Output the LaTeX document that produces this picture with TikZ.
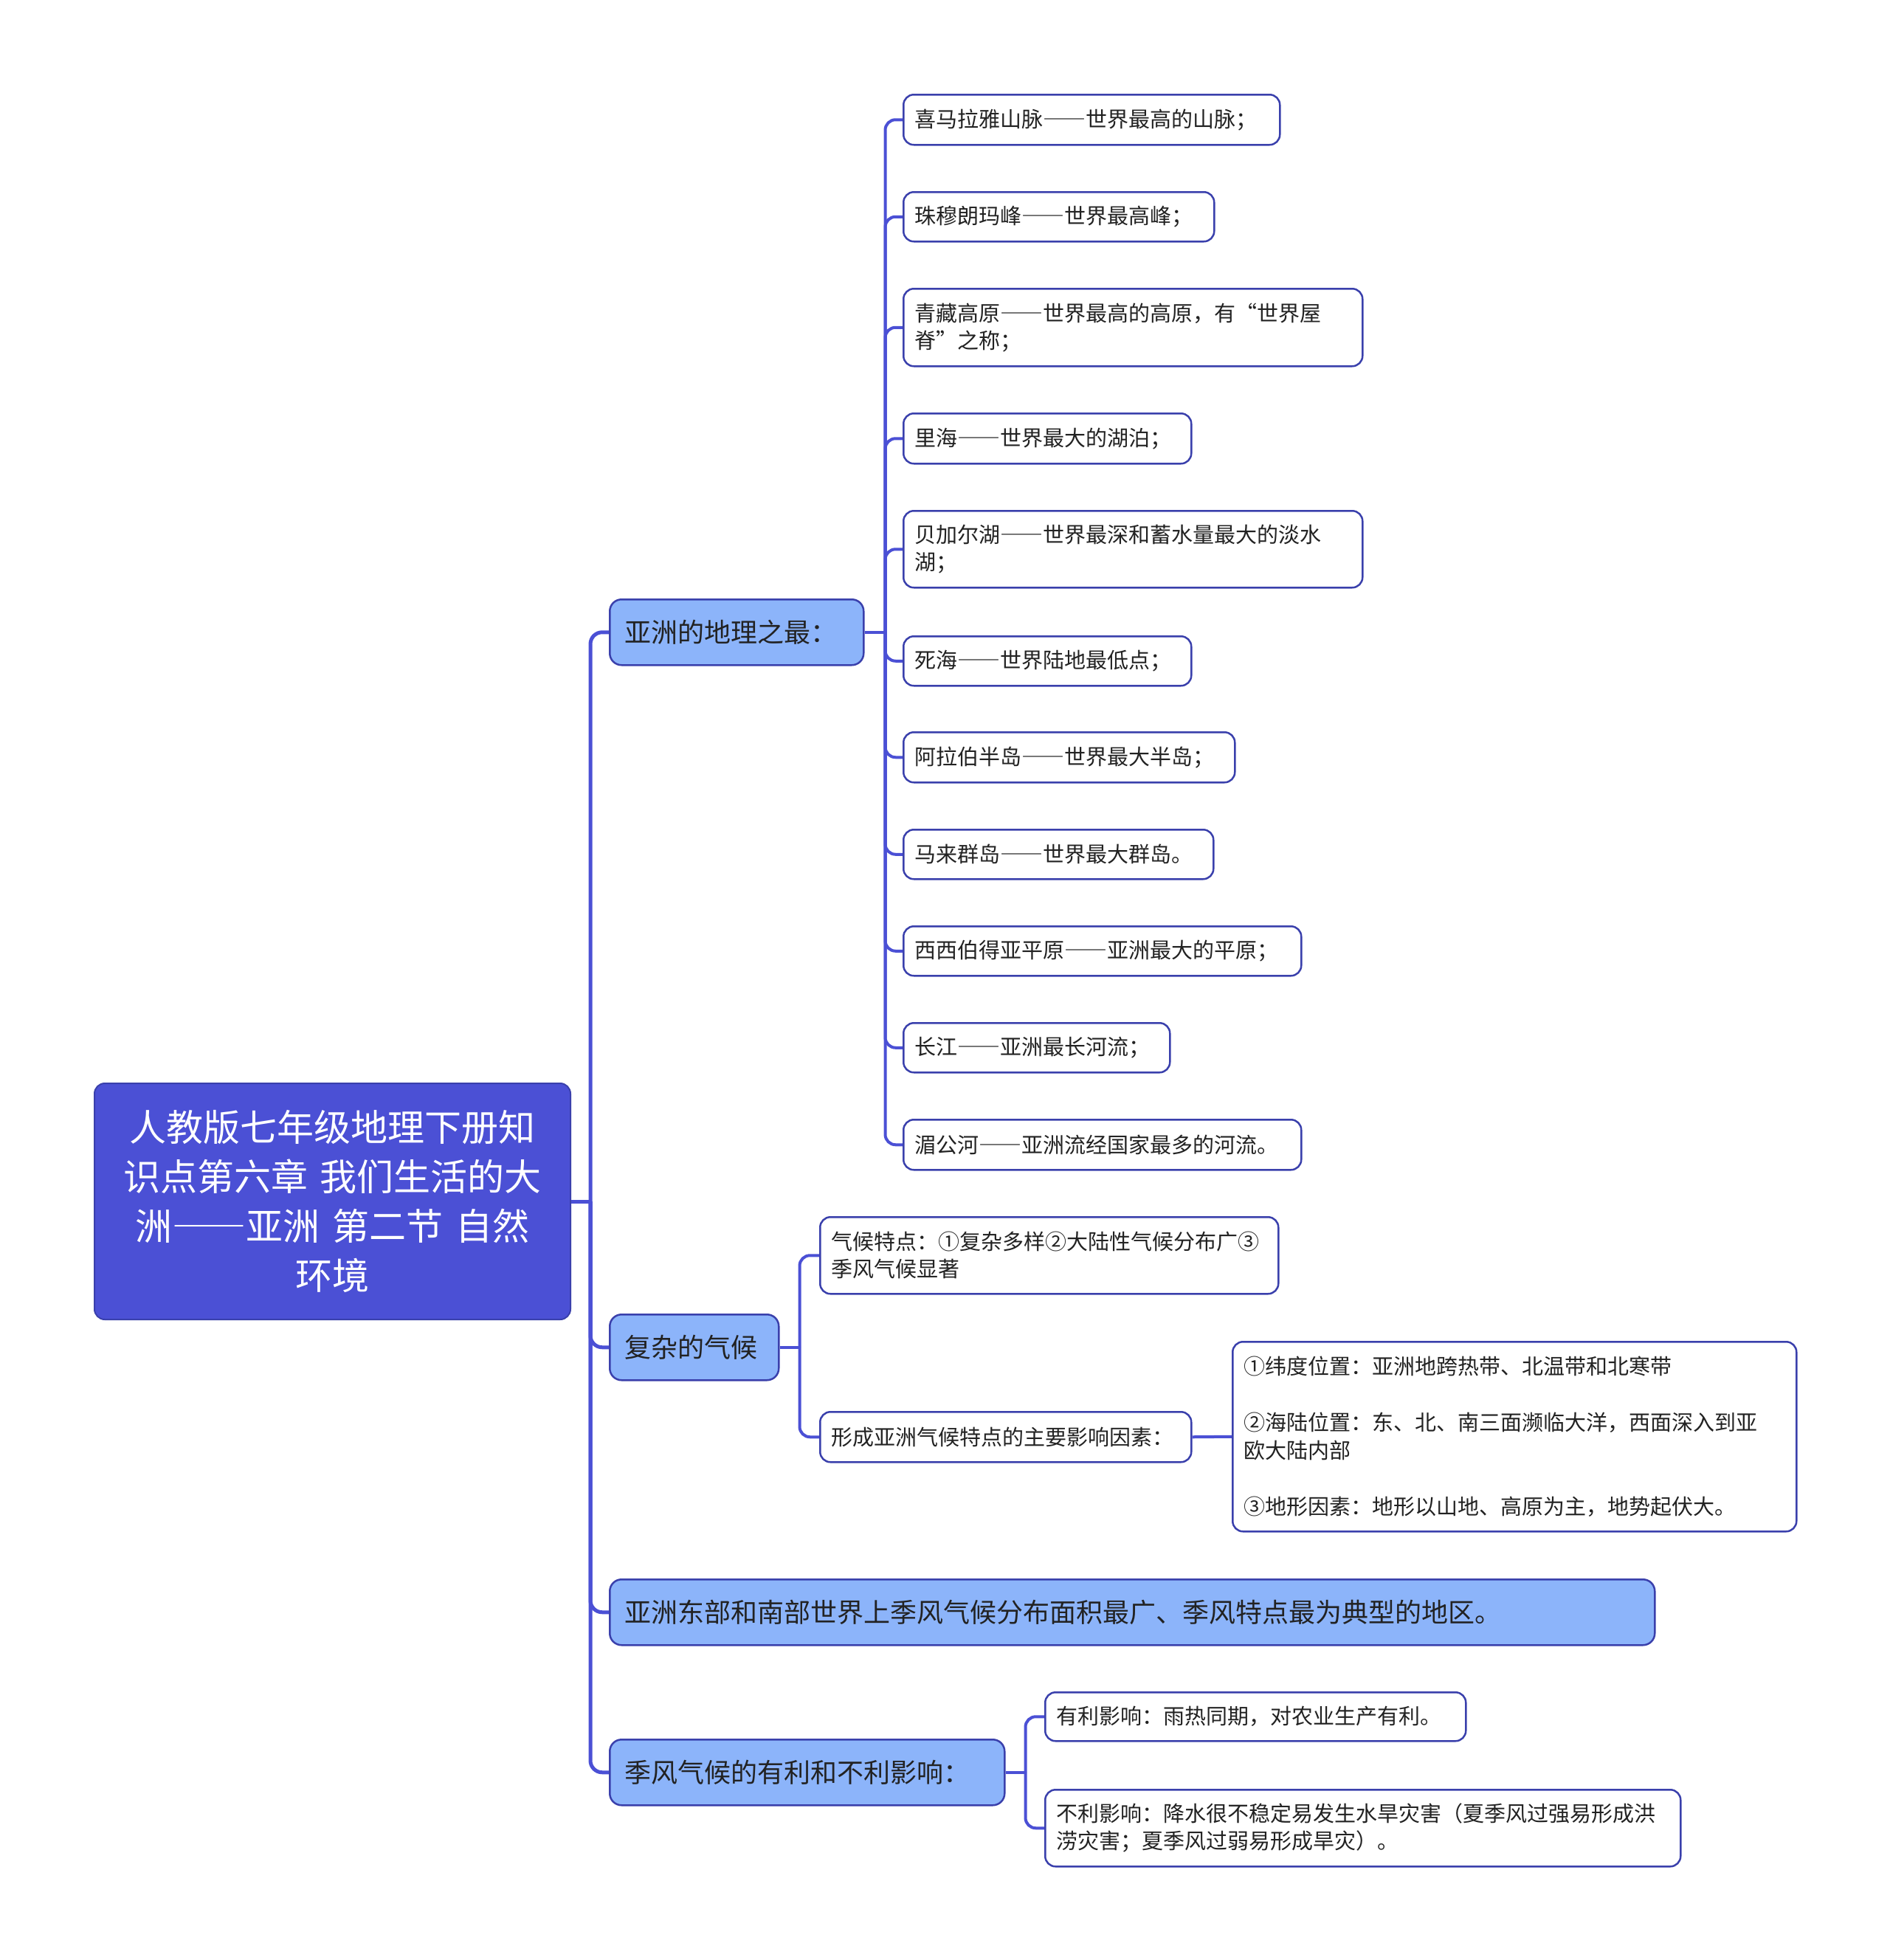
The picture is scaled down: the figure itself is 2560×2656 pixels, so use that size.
\documentclass[tikz,border=0pt]{standalone}
\usepackage{fontspec}
\setmainfont{Noto Sans CJK SC}
\usetikzlibrary{calc}
\definecolor{mainblue}{RGB}{75,80,213}
\definecolor{edgeblue}{RGB}{58,64,172}
\definecolor{lightblue}{RGB}{140,180,250}
\definecolor{txt}{RGB}{34,34,34}
\newcommand\emdd{{\addfontfeatures{RawFeature=+fwid}——}}
\tikzset{
  leafbox/.style={draw=edgeblue, line width=2.5pt, rounded corners=14pt, fill=white, text=txt, align=left, inner xsep=15pt, inner ysep=0pt, anchor=north west, font=\fontsize{29}{37}\selectfont},
  topicbox/.style={draw=edgeblue, line width=2.5pt, rounded corners=16pt, fill=lightblue, text=txt, align=left, inner xsep=20pt, inner ysep=0pt, anchor=north west, font=\fontsize{36}{44}\selectfont},
  rootbox/.style={draw=edgeblue, line width=2pt, rounded corners=14pt, fill=mainblue, text=white, align=center, inner xsep=20pt, inner ysep=0pt, anchor=north west, font=\fontsize{50}{67}\selectfont},
  conn/.style={draw=mainblue, line width=5pt, rounded corners=16pt},
  leafconn/.style={draw=mainblue, line width=4pt, rounded corners=14pt},
}
\begin{document}
\begin{tikzpicture}[x=1pt,y=-1pt]
\useasboundingbox[fill=white] (0,0) rectangle (2560,2656);

% root
\node[rootbox, text width=605pt, minimum height=320pt] (root) at (127,1467)
  {人教版七年级地理下册知\\识点第六章 我们生活的大\\洲\emdd 亚洲 第二节 自然\\环境};

% level 1
\node[topicbox, text width=304pt, minimum height=89pt] (A) at (825,811) {亚洲的地理之最：};
\node[topicbox, text width=189pt, minimum height=89pt] (B) at (825,1780) {复杂的气候};
\node[topicbox, text width=1376pt, minimum height=89pt] (C) at (825,2139) {亚洲东部和南部世界上季风气候分布面积最广、季风特点最为典型的地区。};
\node[topicbox, text width=495pt, minimum height=89pt] (D) at (825,2356) {季风气候的有利和不利影响：};

% leaves of A
\node[leafbox, text width=480pt, minimum height=68pt] (a1) at (1223,127) {喜马拉雅山脉\emdd 世界最高的山脉；};
\node[leafbox, text width=391pt, minimum height=67pt] (a2) at (1223,259) {珠穆朗玛峰\emdd 世界最高峰；};
\node[leafbox, text width=592pt, minimum height=105pt] (a3) at (1223,390) {青藏高原\emdd 世界最高的高原，有“世界屋\\脊”之称；};
\node[leafbox, text width=360pt, minimum height=68pt] (a4) at (1223,559) {里海\emdd 世界最大的湖泊；};
\node[leafbox, text width=592pt, minimum height=104pt] (a5) at (1223,691) {贝加尔湖\emdd 世界最深和蓄水量最大的淡水\\湖；};
\node[leafbox, text width=360pt, minimum height=67pt] (a6) at (1223,861) {死海\emdd 世界陆地最低点；};
\node[leafbox, text width=419pt, minimum height=68pt] (a7) at (1223,991) {阿拉伯半岛\emdd 世界最大半岛；};
\node[leafbox, text width=390pt, minimum height=67pt] (a8) at (1223,1123) {马来群岛\emdd 世界最大群岛。};
\node[leafbox, text width=509pt, minimum height=67pt] (a9) at (1223,1254) {西西伯得亚平原\emdd 亚洲最大的平原；};
\node[leafbox, text width=331pt, minimum height=67pt] (a10) at (1223,1385) {长江\emdd 亚洲最长河流；};
\node[leafbox, text width=509pt, minimum height=68pt] (a11) at (1223,1516) {湄公河\emdd 亚洲流经国家最多的河流。};

% children of B
\node[leafbox, text width=591pt, minimum height=104pt] (b1) at (1110,1648) {气候特点：①复杂多样②大陆性气候分布广③\\季风气候显著};
\node[leafbox, text width=473pt, minimum height=68pt] (b2) at (1110,1912) {形成亚洲气候特点的主要影响因素：};
\node[leafbox, font=\fontsize{29}{38}\selectfont, text width=734pt, minimum height=257pt] (b3) at (1669,1817)
  {①纬度位置：亚洲地跨热带、北温带和北寒带\\[38pt]②海陆位置：东、北、南三面濒临大洋，西面深入到亚\\欧大陆内部\\[38pt]③地形因素：地形以山地、高原为主，地势起伏大。};

% children of D
\node[leafbox, text width=540pt, minimum height=66pt] (d1) at (1415,2292) {有利影响：雨热同期，对农业生产有利。};
\node[leafbox, text width=831pt, minimum height=104pt] (d2) at (1415,2424) {不利影响：降水很不稳定易发生水旱灾害（夏季风过强易形成洪\\涝灾害；夏季风过弱易形成旱灾）。};

% connectors root -> level 1
\coordinate (rt) at ($(root.east)+(26,0)$);
\draw[conn] (root.east) -- (rt);
\foreach \n in {A,B,C,D} {\draw[conn] (rt) |- (\n.west);}

% A -> leaves
\coordinate (at) at ($(A.east)+(28,0)$);
\draw[leafconn] (A.east) -- (at);
\foreach \n in {a1,a2,a3,a4,a5,a6,a7,a8,a9,a10,a11} {\draw[leafconn] (at) |- (\n.west);}

% B -> children
\coordinate (bt) at ($(B.east)+(27,0)$);
\draw[leafconn] (B.east) -- (bt);
\foreach \n in {b1,b2} {\draw[leafconn] (bt) |- (\n.west);}
\draw[leafconn] (b2.east) -- (b3.west);

% D -> children
\coordinate (dt) at ($(D.east)+(27,0)$);
\draw[leafconn] (D.east) -- (dt);
\foreach \n in {d1,d2} {\draw[leafconn] (dt) |- (\n.west);}
\end{tikzpicture}
\end{document}
